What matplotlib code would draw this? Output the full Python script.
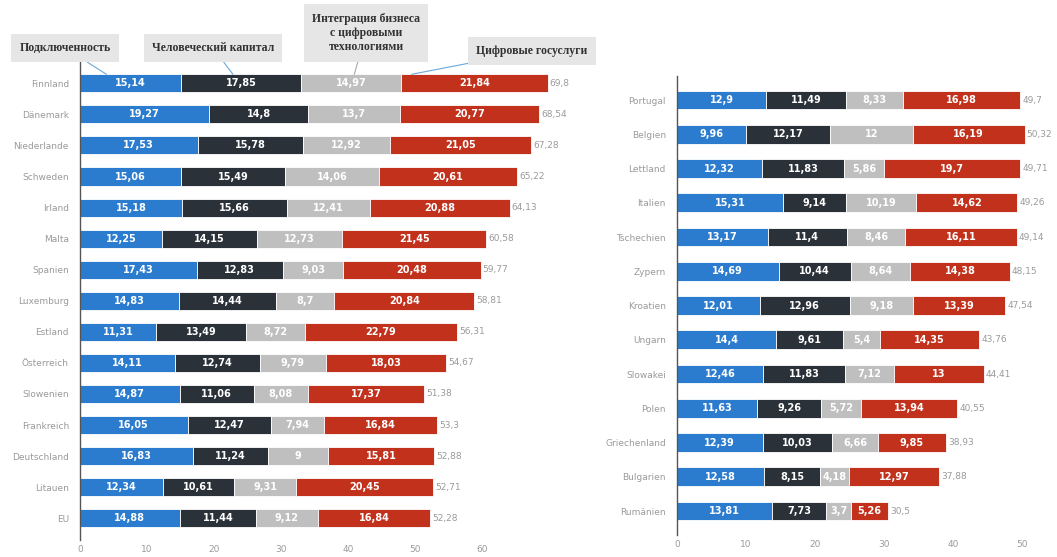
import numpy as np
import matplotlib
matplotlib.use('Agg')
import matplotlib.pyplot as plt

# данные: левая часть (страны с высоким индексом)
strany_1 = ['Finnland', 'Dänemark', 'Niederlande', 'Schweden', 'Irland', 'Malta', 'Spanien',
            'Luxemburg', 'Estland', 'Österreich', 'Slowenien', 'Frankreich', 'Deutschland',
            'Litauen', 'EU']
podkl_1 = [15.14, 19.27, 17.53, 15.06, 15.18, 12.25, 17.43, 14.83, 11.31, 14.11, 14.87, 16.05, 16.83, 12.34, 14.88]
kapital_1 = [17.85, 14.8, 15.78, 15.49, 15.66, 14.15, 12.83, 14.44, 13.49, 12.74, 11.06, 12.47, 11.24, 10.61, 11.44]
integr_1 = [14.97, 13.70, 12.92, 14.06, 12.41, 12.73, 9.03, 8.70, 8.72, 9.79, 8.08, 7.94, 9.0, 9.31, 9.12]
uslugi_1 = [21.84, 20.77, 21.05, 20.61, 20.88, 21.45, 20.48, 20.84, 22.79, 18.03, 17.37, 16.84, 15.81, 20.45, 16.84]

# правая часть
strany_2 = ['Portugal', 'Belgien', 'Lettland', 'Italien', 'Tschechien', 'Zypern', 'Kroatien',
            'Ungarn', 'Slowakei', 'Polen', 'Griechenland', 'Bulgarien', 'Rumänien']
podkl_2 = [12.9, 9.96, 12.32, 15.31, 13.17, 14.69, 12.01, 14.4, 12.46, 11.63, 12.39, 12.58, 13.81]
kapital_2 = [11.49, 12.17, 11.83, 9.14, 11.4, 10.44, 12.96, 9.61, 11.83, 9.26, 10.03, 8.15, 7.73]
integr_2 = [8.33, 12.0, 5.86, 10.19, 8.46, 8.64, 9.18, 5.4, 7.12, 5.72, 6.66, 4.18, 3.7]
uslugi_2 = [16.98, 16.19, 19.7, 14.62, 16.11, 14.38, 13.39, 14.35, 13.0, 13.94, 9.85, 12.97, 5.26]

nazvaniya = ['Подключенность', 'Человеческий капитал',
             'Интеграция бизнеса\nс цифровыми\nтехнологиями', 'Цифровые госуслуги']
cveta = ['#2b7ccf', '#2a3139', '#bfbfbf', '#c1311c']


def fmt(v):
    s = f'{v:.2f}'.rstrip('0').rstrip('.')
    return s.replace('.', ',')


def risuem(ax, strany, ryady, h, xmax, ticks):
    y = np.arange(len(strany))
    left = np.zeros(len(strany))
    for vals, c in zip(ryady, cveta):
        vals = np.array(vals)
        ax.barh(y, vals, left=left, height=h, color=c, edgecolor='white', linewidth=0.6)
        for yi, l, v in zip(y, left, vals):
            ax.text(l + v / 2, yi, fmt(v), ha='center', va='center', color='white',
                    fontsize=7, fontweight='bold')
        left = left + vals
    for yi, t in zip(y, left):
        ax.text(t + 0.3, yi, fmt(round(t, 2)), ha='left', va='center', color='#9a9a9a', fontsize=6.5)
    ax.set_yticks(y)
    ax.set_yticklabels(strany, fontsize=6.5, color='#8a8a8a')
    ax.set_ylim(len(strany) - 0.3, -0.7)
    ax.set_xlim(0, xmax)
    ax.set_xticks(ticks)
    ax.tick_params(axis='both', length=0, labelsize=6.5, labelcolor='#9a9a9a')
    ax.tick_params(axis='y', pad=8)
    for s in ['top', 'right', 'bottom']:
        ax.spines[s].set_visible(False)
    ax.spines['left'].set_color('#555555')
    ax.spines['left'].set_linewidth(1.0)
    return left


fig = plt.figure(figsize=(10.57, 5.57), dpi=100)
ax1 = fig.add_axes([0.0757, 0.0305, 0.4692, 0.859])
ax2 = fig.add_axes([0.6405, 0.0395, 0.3595, 0.824])

risuem(ax1, strany_1, [podkl_1, kapital_1, integr_1, uslugi_1], 0.58, 74, range(0, 61, 10))
risuem(ax2, strany_2, [podkl_2, kapital_2, integr_2, uslugi_2], 0.55, 55, range(0, 51, 10))

# подписи-легенда сверху слева со стрелками на первую строку
tekst_xy = [(65, 509), (213, 509), (366, 524), (532, 506)]
doli = [0.26, 0.43, 0.53, 0.07]
liniya = ['#6aa8dc', '#6aa8dc', '#aaaaaa', '#6aa8dc']
starts = np.cumsum([0, podkl_1[0], kapital_1[0], integr_1[0]])
widths = [podkl_1[0], kapital_1[0], integr_1[0], uslugi_1[0]]
for i, name in enumerate(nazvaniya):
    xd = starts[i] + doli[i] * widths[i]
    ax1.annotate(name, xy=(xd, -0.29), xycoords='data', xytext=tekst_xy[i],
                 textcoords='figure pixels', ha='center', va='center',
                 fontsize=8.5, fontweight='bold', family='Liberation Serif', color='#333333',
                 linespacing=1.25,
                 bbox=dict(boxstyle='square,pad=0.7', facecolor='#e6e6e6', edgecolor='none'),
                 arrowprops=dict(arrowstyle='-', color=liniya[i], lw=0.8, shrinkA=0, shrinkB=0),
                 annotation_clip=False)

fig.savefig('out.png', dpi=100, facecolor='white')
